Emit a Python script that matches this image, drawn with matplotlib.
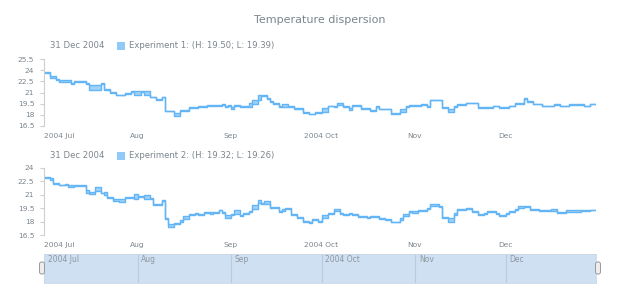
import pandas as pd
import matplotlib
matplotlib.use("Agg")
import matplotlib.pyplot as plt
from matplotlib.patches import Rectangle, FancyBboxPatch
from matplotlib.transforms import IdentityTransform

W, H = 620, 300
start = pd.Timestamp("2004-07-01")
end = pd.Timestamp("2004-12-31")

# step starts as days after 1 Jul 2004, with high / low of each step
exp1_day = [0, 2, 4, 5, 9, 10, 14, 15, 19, 20, 22, 24, 27, 29, 30, 32, 33, 35, 37, 39, 40, 43, 45,
            48, 51, 54, 59, 60, 61, 62, 63, 65, 68, 69, 71, 72, 74, 75, 76, 78, 79, 81, 83,
            86, 88, 90, 92, 94, 96, 97, 99, 101, 102, 105, 108, 110, 111, 115, 118, 120, 121, 125, 127,
            128, 132, 134, 136, 137, 140, 144, 149, 151, 154, 156, 159, 160, 162, 165, 169, 171, 174, 179, 181]
exp1_high = [23.8, 23.2, 22.8, 22.7, 22.25, 22.6, 22.3, 22.0, 22.25, 21.45, 21.05, 20.7, 20.95, 21.2, 21.2, 21.2, 21.2, 20.45, 20.15, 20.45, 18.55, 18.25, 18.7,
             19.05, 19.15, 19.35, 19.45, 19.15, 19.35, 19.0, 19.35, 19.15, 19.55, 19.95, 20.6, 20.65, 20.25, 19.8, 19.55, 19.15, 19.5, 19.15, 18.95,
             18.35, 18.15, 18.35, 18.9, 19.25, 19.15, 19.6, 19.15, 18.95, 19.35, 18.95, 18.65, 19.15, 18.85, 18.25, 18.75, 19.15, 19.35, 19.45, 19.15,
             20.05, 19.0, 18.75, 19.15, 19.5, 19.65, 19.05, 19.25, 19.0, 19.25, 19.55, 20.25, 19.8, 19.5, 19.25, 19.45, 19.25, 19.45, 19.25, 19.50]
exp1_low = [23.6, 23.0, 22.7, 22.4, 22.15, 22.35, 22.2, 21.4, 22.1, 21.3, 20.95, 20.6, 20.85, 21.05, 20.7, 21.05, 20.7, 20.35, 20.05, 20.35, 18.45, 17.9, 18.5,
            18.9, 19.05, 19.25, 19.35, 19.05, 19.25, 18.8, 19.25, 19.05, 19.1, 19.5, 20.0, 20.55, 20.15, 19.7, 19.45, 19.05, 19.1, 19.05, 18.85,
            18.25, 18.05, 18.25, 18.4, 19.15, 19.05, 19.3, 19.05, 18.65, 19.25, 18.85, 18.55, 19.05, 18.75, 18.15, 18.4, 19.05, 19.25, 19.35, 19.05,
            19.95, 18.9, 18.4, 19.05, 19.3, 19.55, 18.95, 19.15, 18.9, 19.15, 19.45, 20.1, 19.7, 19.4, 19.15, 19.35, 19.15, 19.35, 19.15, 19.39]

exp2_day = [0, 2, 3, 5, 7, 8, 10, 14, 15, 17, 19, 20, 21, 23, 25, 27, 30, 31, 33, 35,
            36, 39, 40, 41, 43, 45, 46, 48, 50, 51, 53, 55, 56, 58, 59, 60, 62, 63, 65, 66,
            68, 69, 71, 72, 73, 75, 78, 79, 80, 82, 84, 86, 88, 89, 91, 92, 94, 96, 98, 99,
            101, 102, 104, 107, 108, 111, 113, 115, 118, 119, 121, 122, 124, 127, 128, 131, 132, 134, 136, 137,
            140, 142, 144, 146, 147, 150, 151, 153, 154, 156, 157, 159, 161, 164, 168, 170, 173, 178, 181]
exp2_high = [23.0, 22.85, 22.35, 22.15, 22.25, 22.15, 22.05, 21.5, 21.35, 21.85, 21.25, 21.35, 20.75, 20.55, 20.5, 20.75, 21.05, 20.85, 21.0, 20.65,
             20.0, 20.4, 18.35, 17.75, 17.85, 18.2, 18.6, 18.8, 18.95, 18.8, 19.05, 19.05, 19.05, 19.35, 19.05, 18.75, 18.85, 19.25, 18.7, 18.95,
             19.15, 19.85, 20.45, 20.05, 20.3, 19.6, 19.15, 19.4, 19.55, 18.85, 18.5, 18.05, 17.95, 18.25, 18.05, 18.7, 18.95, 19.45, 18.95, 18.8,
             18.95, 18.8, 18.6, 18.5, 18.6, 18.4, 18.25, 18.0, 18.45, 18.9, 19.15, 19.15, 19.25, 19.55, 19.95, 19.7, 18.5, 18.4, 19.0, 19.45,
             19.55, 19.15, 18.9, 18.95, 19.15, 18.95, 18.7, 18.95, 19.15, 19.45, 19.75, 19.7, 19.45, 19.25, 19.4, 19.05, 19.3, 19.25, 19.32]
exp2_low = [22.9, 22.7, 22.25, 22.05, 22.15, 21.9, 21.95, 21.25, 21.05, 21.45, 21.15, 21.0, 20.65, 20.25, 20.15, 20.65, 20.55, 20.75, 20.55, 20.55,
            19.9, 20.3, 18.25, 17.45, 17.75, 17.9, 18.3, 18.7, 18.85, 18.7, 18.95, 18.8, 18.95, 19.25, 18.95, 18.45, 18.75, 18.9, 18.6, 18.85,
            19.05, 19.45, 20.1, 19.95, 20.0, 19.5, 19.05, 19.15, 19.45, 18.75, 18.4, 17.95, 17.85, 18.15, 17.95, 18.35, 18.85, 19.15, 18.85, 18.7,
            18.8, 18.7, 18.5, 18.4, 18.5, 18.3, 18.15, 17.9, 18.2, 18.65, 19.05, 18.95, 19.15, 19.45, 19.75, 19.6, 18.4, 18.0, 18.75, 19.25,
            19.45, 19.05, 18.7, 18.85, 19.05, 18.85, 18.6, 18.8, 19.05, 19.35, 19.55, 19.6, 19.35, 19.15, 19.2, 18.95, 19.1, 19.15, 19.26]

exp1_yticks = [16.5, 18, 19.5, 21, 22.5, 24, 25.5]
exp2_yticks = [16.5, 18, 19.5, 21, 22.5, 24]
month_labels = ["2004 Jul", "Aug", "Sep", "2004 Oct", "Nov", "Dec"]

TXT = "#7c868e"
LINE = "#64B5F6"
FILL = "#90CAF9"
AXC = "#CECECE"


def fig_box(x0, y0, x1, y1):
    # pixel box (top-left origin) -> figure fraction rect
    return [x0 / W, 1 - y1 / H, (x1 - x0) / W, (y1 - y0) / H]


fig = plt.figure(figsize=(W / 100, H / 100), dpi=100)
months = pd.date_range(start, end, freq="MS")


def draw_series(ax, days, hi, lo, yticks):
    x = [start + pd.Timedelta(days=d) for d in days] + [end]
    hi = list(hi) + [hi[-1]]
    lo = list(lo) + [lo[-1]]
    ax.fill_between(x, lo, hi, step="post", color=FILL, alpha=0.85, lw=0)
    ax.step(x, hi, where="post", color=LINE, lw=1.0)
    ax.step(x, lo, where="post", color=LINE, lw=1.0)
    ax.set_xlim(start, end)
    ax.set_ylim(yticks[0], yticks[-1])
    ax.set_yticks(yticks)
    ax.set_yticklabels(["%g" % v for v in yticks])
    ax.set_xticks(months)
    ax.set_xticklabels(month_labels)
    ax.get_xticklabels()[0].set_ha("left")
    for s in ["top", "right", "bottom"]:
        ax.spines[s].set_visible(False)
    ax.spines["left"].set_color(AXC)
    ax.spines["left"].set_linewidth(0.8)
    ax.tick_params(axis="y", length=3, width=0.8, color=AXC, labelsize=5.4, labelcolor=TXT, pad=4)
    ax.tick_params(axis="x", length=0, labelsize=5.4, labelcolor=TXT, pad=5)
    ax.set_facecolor("none")


ax1 = fig.add_axes(fig_box(44, 59, 596, 126))
draw_series(ax1, exp1_day, exp1_high, exp1_low, exp1_yticks)
ax2 = fig.add_axes(fig_box(44, 168, 596, 235))
draw_series(ax2, exp2_day, exp2_high, exp2_low, exp2_yticks)

fig.text(320 / W, 1 - 20 / H, "Temperature dispersion", ha="center", va="center",
         fontsize=8, color=TXT)

legends = [(46, "Experiment 1: (H: %.2f; L: %.2f)" % (exp1_high[-1], exp1_low[-1])),
           (156, "Experiment 2: (H: %.2f; L: %.2f)" % (exp2_high[-1], exp2_low[-1]))]
for ly, label in legends:
    fig.text(50 / W, 1 - ly / H, "31 Dec 2004", ha="left", va="center", fontsize=6.1, color=TXT)
    fig.patches.append(Rectangle((117 / W, 1 - (ly + 4) / H), 8 / W, 8 / H,
                                 transform=fig.transFigure, color=FILL, lw=0))
    fig.text(129 / W, 1 - ly / H, label, ha="left", va="center", fontsize=6.1, color=TXT)

# scroller
sc = fig.add_axes(fig_box(44, 254, 596, 283))
sc.set_facecolor("#D0E0F3")
sc.set_xlim(start, end)
sc.set_ylim(0, 1)
for m in months[1:]:
    sc.axvline(m, color="#BACBE0", lw=0.8)
for m, lab in zip(months, month_labels):
    sc.text(m + pd.Timedelta(days=1.3), 0.8, lab, ha="left", va="center", fontsize=5.5, color="#8E979E")
sc.set_xticks([])
sc.set_yticks([])
for s in sc.spines.values():
    s.set_color("#C9D6E6")
    s.set_linewidth(0.6)

for hx in [42, 598]:
    fig.patches.append(FancyBboxPatch((hx - 2.5, H - 268 - 6), 5, 12,
                                      boxstyle="round,pad=0,rounding_size=2",
                                      transform=IdentityTransform(),
                                      facecolor="#EDEDED", edgecolor="#9A9A9A", lw=0.7))

fig.savefig("out.png", dpi=100)
